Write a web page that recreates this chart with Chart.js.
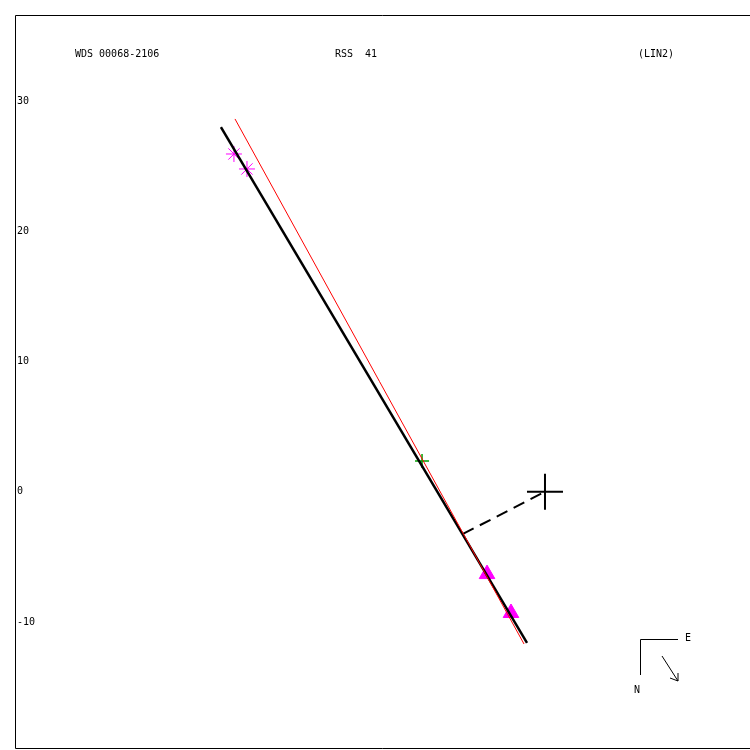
<!DOCTYPE html>
<html>
<head>
<meta charset="utf-8">
<title>WDS 00068-2106</title>
<script src="https://cdn.jsdelivr.net/npm/chart.js@4"></script>
<style>
  html, body { margin: 0; padding: 0; background: #fff; }
  #wrap { width: 750px; height: 750px; position: relative; }
</style>
</head>
<body>
<div id="wrap"><canvas id="orbit"></canvas></div>
<script>
// ---- data (arcsec-ish units, origin = primary) ----
const yTicks = [30, 20, 10, 0, -10];

const starX = [-23.88, -22.88];        // magenta asterisks
const starY = [25.93, 24.78];
const plusX = [-9.44];                 // green plus
const plusY = [2.36];
const triX  = [-4.45, -2.61];          // magenta triangles
const triY  = [-6.32, -9.31];

const fitX  = [-24.88, -1.38];         // black line
const fitY  = [28.00, -11.61];
const redX  = [-23.80, -1.61];         // red line
const redY  = [28.62, -11.69];
const nodeX = [-6.30, 0];              // dashed line to primary
const nodeY = [-3.24, 0];
const primX = [0];
const primY = [0];

const titleLeft  = 'WDS 00068-2106';
const titleMid   = 'RSS  41';
const titleRight = '(LIN2)';

const xy = (xs, ys) => xs.map((x, i) => ({ x: x, y: ys[i] }));
const MONO = '10px "DejaVu Sans Mono", monospace';

// frame, labels, y ticks, compass
const decor = {
  id: 'decor',
  afterDraw(chart) {
    const { ctx, chartArea: a, scales } = chart;
    ctx.save();
    ctx.strokeStyle = '#000';
    ctx.lineWidth = 1;
    ctx.beginPath();
    ctx.moveTo(a.right, a.top + 0.5);
    ctx.lineTo(a.left + 0.5, a.top + 0.5);
    ctx.lineTo(a.left + 0.5, a.bottom - 0.5);
    ctx.lineTo(a.right, a.bottom - 0.5);
    ctx.stroke();

    ctx.fillStyle = '#000';
    ctx.font = MONO;
    ctx.textBaseline = 'middle';
    ctx.textAlign = 'left';
    ctx.fillText(titleLeft, 75, 54);
    ctx.fillText(titleMid, 335, 54);
    ctx.fillText(titleRight, 638, 54);

    yTicks.forEach(t => {
      ctx.fillText(String(t), a.left + 2, scales.y.getPixelForValue(t));
    });

    // compass
    ctx.beginPath();
    ctx.moveTo(640.5, 675);
    ctx.lineTo(640.5, 639.5);
    ctx.lineTo(678, 639.5);
    ctx.stroke();
    ctx.fillText('E', 685, 638);
    ctx.fillText('N', 634, 690);
    ctx.beginPath();
    ctx.moveTo(662, 656);
    ctx.lineTo(678, 681);
    ctx.moveTo(678, 681);
    ctx.lineTo(670, 678);
    ctx.moveTo(678, 681);
    ctx.lineTo(678, 673);
    ctx.stroke();
    ctx.restore();
  }
};

new Chart(document.getElementById('orbit'), {
  type: 'scatter',
  data: {
    datasets: [
      {
        label: 'red', type: 'line', data: xy(redX, redY),
        borderColor: '#ff0000', borderWidth: 1, pointRadius: 0, fill: false
      },
      {
        label: 'fit', type: 'line', data: xy(fitX, fitY),
        borderColor: '#000', borderWidth: 2.5, pointRadius: 0, fill: false
      },
      {
        label: 'node', type: 'line', data: xy(nodeX, nodeY),
        borderColor: '#000', borderWidth: 2, borderDash: [12, 7], pointRadius: 0, fill: false
      },
      {
        label: 'asterisks', data: xy(starX, starY),
        pointStyle: 'star', pointRadius: 8, borderColor: '#ff00ff', borderWidth: 1,
        backgroundColor: '#ff00ff'
      },
      {
        label: 'plus', data: xy(plusX, plusY),
        pointStyle: 'cross', pointRadius: 7, borderColor: '#00a000', borderWidth: 1.5
      },
      {
        label: 'triangles', data: xy(triX, triY),
        pointStyle: 'triangle', pointRadius: 9, borderColor: '#ff00ff', borderWidth: 1,
        backgroundColor: '#ff00ff'
      },
      {
        label: 'primary', data: xy(primX, primY),
        pointStyle: 'cross', pointRadius: 18, borderColor: '#000', borderWidth: 2
      }
    ]
  },
  options: {
    responsive: true,
    maintainAspectRatio: false,
    animation: false,
    layout: { autoPadding: false, padding: { left: 15, top: 15, right: 0, bottom: 1 } },
    scales: {
      x: { type: 'linear', min: -40.69, max: 15.74, display: false },
      y: { type: 'linear', min: -19.75, max: 36.60, display: false }
    },
    plugins: {
      legend: { display: false },
      tooltip: { enabled: false }
    }
  },
  plugins: [decor]
});
</script>
</body>
</html>
